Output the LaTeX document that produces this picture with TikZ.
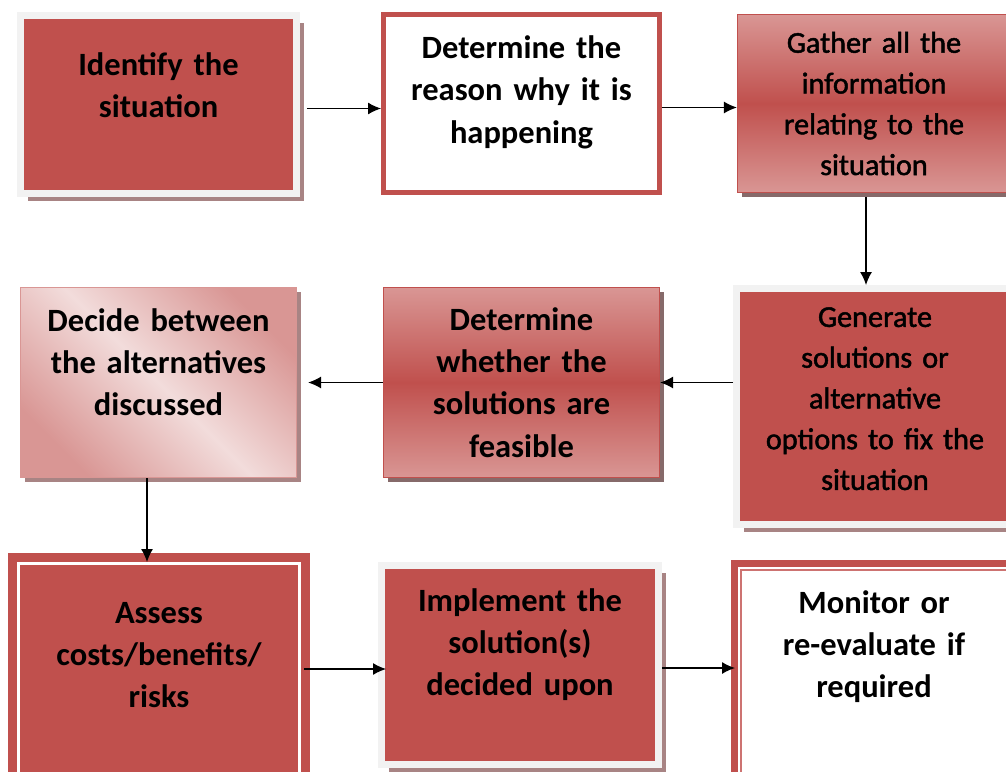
\documentclass[tikz,border=0pt]{standalone}
\usepackage{fontspec}
\setmainfont{Carlito}
\newfontfamily\heavyish[FakeBold=1.6]{Carlito}
\usetikzlibrary{arrows.meta,shadows}

\definecolor{boxred}{HTML}{C0504D}
\definecolor{boxpink}{HTML}{D99694}
\definecolor{boxblush}{HTML}{F2DCDB}
\definecolor{framegray}{HTML}{F2F2F2}
\definecolor{shadowc}{HTML}{A88484}

\tikzset{
  stage/.style={rectangle, inner sep=0pt, text width=5.2cm, align=center,
    font=\fontsize{18.5}{24}\selectfont\bfseries},
  light/.style={font=\fontsize{17.2}{23.2}\selectfont\heavyish},
  % pushes the text up by giving the last line extra depth
  lift/.style={execute at end node={\rule[-#1]{0pt}{#1}}},
  framed/.style={stage, fill=boxred, draw=framegray, line width=1.4mm,
    drop shadow={shadow xshift=1.5mm, shadow yshift=-1.5mm, fill=shadowc, opacity=1}},
  outlined/.style={stage, fill=white, draw=boxred, line width=1mm},
  banded/.style={stage, top color=boxpink, bottom color=boxpink, middle color=boxred,
    draw=boxred, line width=0.25mm,
    drop shadow={shadow xshift=0.9mm, shadow yshift=-0.9mm, fill=shadowc!80!black, opacity=1}},
  swept/.style={stage, top color=boxpink, bottom color=boxpink, middle color=boxblush,
    shading angle=-45, draw=boxpink, line width=0.25mm,
    drop shadow={shadow xshift=0.9mm, shadow yshift=-0.9mm, fill=shadowc, opacity=1}},
  doubled/.style={stage, fill=boxred, draw=boxred, double=white, line width=1.8mm,
    double distance=0.6mm},
  ringed/.style={stage, fill=white, draw=boxred, line width=1.4mm},
}

\begin{document}
\begin{tikzpicture}[x=0.02cm, y=-0.02cm, line width=0.75pt,
    >={Latex[length=2.6mm,width=2.4mm]}]
  \useasboundingbox (0,0) rectangle (1006,771);
  \fill [white] (0,0) rectangle (1006,771);
  \clip (0,0) rectangle (1006,771);

  % first row, left to right
  \node (ident) [framed, minimum width=5.52cm, minimum height=3.56cm, lift=22pt]
    at (158.5,104.5) {Identify the\\situation};
  \node (reason) [outlined, minimum width=5.52cm, minimum height=3.56cm, lift=16pt]
    at (521.5,103.5) {Determine the\\reason why it is\\happening};
  \node (gather) [banded, light, minimum width=5.46cm, minimum height=3.56cm]
    at (874,103.5) {Gather all the\\information\\relating to the\\situation};

  % second row, right to left
  \node (gen) [framed, light, minimum width=5.54cm, minimum height=4.72cm, lift=9pt]
    at (875,406.5) {Generate\\solutions or\\alternative\\options to fix the\\situation};
  \node (feas) [banded, minimum width=5.52cm, minimum height=3.8cm]
    at (521.5,382.5) {Determine\\whether the\\solutions are\\feasible};
  \node (decide) [swept, minimum width=5.52cm, minimum height=3.8cm, lift=23pt]
    at (158.5,382.5) {Decide between\\the alternatives\\discussed};

  % third row
  \node (assess) [doubled, minimum width=5.62cm, minimum height=4.22cm, lift=16pt]
    at (159,669) {Assess\\costs/benefits/\\risks};
  \node (impl) [framed, minimum width=5.54cm, minimum height=3.98cm, lift=26pt]
    at (520,665) {Implement the\\solution(s)\\decided upon};
  \node (mon) [ringed, minimum width=5.58cm, minimum height=4.36cm, lift=32pt]
    at (874,672.5) {Monitor or\\re-evaluate if\\required};
  \draw [boxred!80, line width=0.4mm] ([shift={(2mm,-2mm)}]mon.north west)
    rectangle ([shift={(-2mm,2mm)}]mon.south east);

  \draw [->, shorten <=1.4mm] ([yshift=-0.8mm]ident.east) -- ([yshift=-0.8mm]ident.east -| reason.west);
  \draw [->] ([yshift=-0.8mm]reason.east) -- ([yshift=-0.8mm]reason.east -| gather.west);
  \draw [->, shorten <=0.8mm] ([xshift=-1.6mm]gather.south) -- ([xshift=-1.6mm]gather.south |- gen.north);
  \draw [->] (gen.west |- feas.east) -- (feas.east);
  \draw [->, shorten >=2.2mm] (feas) -- (decide);
  \draw [->, shorten >=-0.6mm] ([xshift=-2.3mm]decide.south) -- ([xshift=-2.3mm]decide.south |- assess.north);
  \draw [->, shorten >=-1.6mm] (assess) -- (assess -| impl.west);
  \draw [->, shorten >=-0.8mm] ([yshift=-0.6mm]impl.east) -- ([yshift=-0.6mm]impl.east -| mon.west);
\end{tikzpicture}
\end{document}
